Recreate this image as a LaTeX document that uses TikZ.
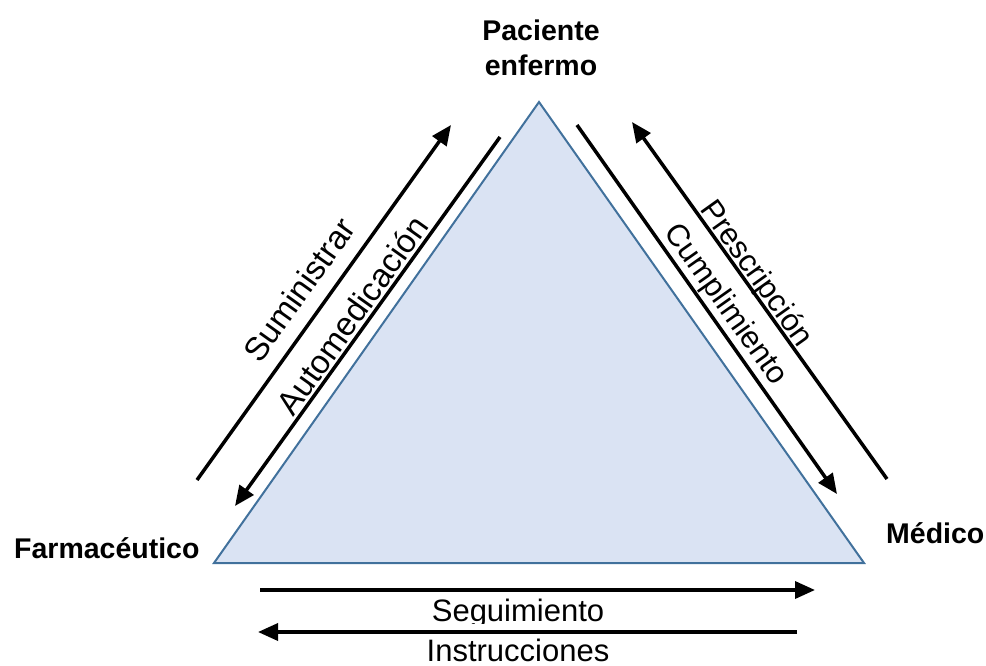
\documentclass[tikz,border=0pt]{standalone}
\usepackage{fontspec}
\setmainfont{Liberation Sans}
\usetikzlibrary{arrows.meta}
\definecolor{trifill}{HTML}{DAE3F3}
\definecolor{tristroke}{HTML}{41719C}
\begin{document}
\begin{tikzpicture}[x=1pt,y=-1pt,
  arr/.style={line width=3.5pt, -{Triangle[length=20pt,width=17pt]}},
  vlabel/.style={font=\fontsize{28.5}{34}\selectfont\bfseries, inner sep=0pt},
  elabel/.style={font=\fontsize{31}{36}\selectfont, inner sep=0pt},
  slabel/.style={font=\fontsize{33}{38}\selectfont, inner sep=0pt}]
\useasboundingbox (0,0) rectangle (986,665);
% triangle
\coordinate (top) at (539,102);
\coordinate (bl) at (214,563);
\coordinate (br) at (864,563);
\draw[tristroke, fill=trifill, line width=2pt, line join=miter] (top) -- (br) -- (bl) -- cycle;
% vertex labels
\node[vlabel, anchor=base] (pacA) at (541,40) {Paciente};
\node[vlabel, anchor=base] (pacB) at (541,75) {enfermo};
\node[vlabel, anchor=base west] (farm) at (14,558) {Farmacéutico};
\node[vlabel, anchor=base west] (med) at (886,543) {Médico};
% arrows
\coordinate (sumA) at (197,480); \coordinate (sumB) at (451,125);
\coordinate (autA) at (500,137); \coordinate (autB) at (235,506);
\coordinate (cumA) at (577,125); \coordinate (cumB) at (837,494);
\coordinate (preA) at (887,479); \coordinate (preB) at (632,122);
\coordinate (segA) at (260,590); \coordinate (segB) at (815,590);
\coordinate (insA) at (797,632); \coordinate (insB) at (258,632);
\draw[arr] (sumA) -- (sumB);
\draw[arr] (autA) -- (autB);
\draw[arr] (cumA) -- (cumB);
\draw[arr] (preA) -- (preB);
\draw[arr] (segA) -- (segB);
\draw[arr] (insA) -- (insB);
% edge labels
\node[slabel, rotate=54.5] (sum) at (299,290) {Suministrar};
\node[slabel, rotate=54.5] (aut) at (352,315) {Automedicación};
\node[elabel, rotate=-54.5] (pre) at (756,274) {Prescripción};
\node[elabel, rotate=-54.8] (cum) at (725,305) {Cumplimiento};
\begin{scope}
\clip (300,580) rectangle (740,623);
\node[elabel, anchor=base] (seg) at (518,621.7) {Seguimiento};
\end{scope}
\node[elabel, anchor=base] (ins) at (518,661.7) {Instrucciones};
\end{tikzpicture}
\end{document}
